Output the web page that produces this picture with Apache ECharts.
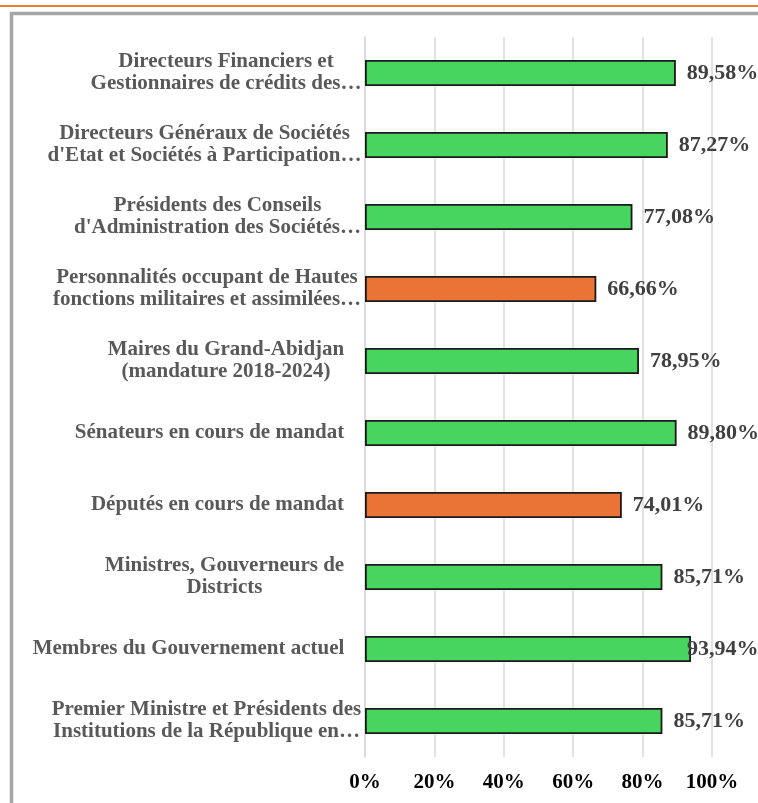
<!DOCTYPE html>
<html>
<head>
<meta charset="utf-8">
<style>
  html, body { margin: 0; padding: 0; background: #fff; }
  #chart { width: 758px; height: 803px; }
</style>
<script src="https://cdn.jsdelivr.net/npm/echarts@6/dist/echarts.min.js"></script>
</head>
<body>
<div id="chart"></div>
<script>
// categories listed bottom to top, as the value axis reads them
const categories = [
  'Premier Ministre et Présidents des\nInstitutions de la République en…',
  'Membres du Gouvernement actuel',
  'Ministres, Gouverneurs de\nDistricts',
  'Députés en cours de mandat',
  'Sénateurs en cours de mandat',
  'Maires du Grand-Abidjan\n(mandature 2018-2024)',
  'Personnalités occupant de Hautes\nfonctions militaires et assimilées…',
  'Présidents des Conseils\nd\'Administration des Sociétés…',
  'Directeurs Généraux de Sociétés\nd\'Etat et Sociétés à Participation…',
  'Directeurs Financiers et\nGestionnaires de crédits des…'
]
const rates = [85.71, 93.94, 85.71, 74.01, 89.80, 78.95, 66.66, 77.08, 87.27, 89.58]
const highlighted = [false, false, false, true, false, false, true, false, false, false]
const tickValues = [0, 20, 40, 60, 80, 100]

const GREEN = '#48D55F'
const ORANGE = '#EA7436'
const FONT = '"Liberation Serif", "Times New Roman", serif'
const CAT_SIZE = 21

// lines of a label are centred on each other; truncated labels run up to the axis,
// full ones stop a little short of it
const ctx = document.createElement('canvas').getContext('2d')
ctx.font = 'bold ' + CAT_SIZE + 'px ' + FONT
const rich = {}
categories.forEach((c, i) => {
  const w = Math.max(...c.split('\n').map(l => ctx.measureText(l).width))
  const pad = c.includes('…') ? 0 : 34
  rich['r' + i] = {
    width: Math.ceil(w) + 1 + pad,
    align: 'center',
    color: '#595959',
    fontFamily: FONT,
    fontWeight: 'bold',
    fontSize: CAT_SIZE,
    lineHeight: 22
  }
})

const chart = echarts.init(document.getElementById('chart'))

const seriesData = rates.map((v, i) => {
  const item = {
    value: v,
    itemStyle: { color: highlighted[i] ? ORANGE : GREEN }
  }
  // the label that would run past the plot is pulled back onto the bar end
  if (v > 92) item.label = { distance: -4 }
  return item
})

chart.setOption({
  animation: false,
  graphic: [
    { type: 'line', shape: { x1: 0, y1: 6, x2: 758, y2: 6 }, style: { stroke: '#ED7D31', lineWidth: 2 } },
    { type: 'rect', shape: { x: 11.5, y: 13.5, width: 800, height: 850 }, style: { fill: 'none', stroke: '#A6A6A6', lineWidth: 3.5 } }
  ],
  grid: { left: 365, right: 46, top: 37, bottom: 46 },
  xAxis: {
    type: 'value',
    min: 0,
    max: 100,
    interval: 20,
    axisLine: { show: false },
    axisTick: { show: false },
    splitLine: { lineStyle: { color: '#D9D9D9', width: 1.5 } },
    axisLabel: {
      margin: 15,
      color: '#000',
      fontFamily: FONT,
      fontWeight: 'bold',
      fontSize: 21,
      formatter: v => tickValues.includes(v) ? v + '%' : ''
    }
  },
  yAxis: {
    type: 'category',
    data: categories,
    axisLine: { show: true, lineStyle: { color: '#D9D9D9', width: 1.5 } },
    axisTick: { show: false },
    axisLabel: {
      margin: 3,
      align: 'right',
      rich: rich,
      formatter: (value, index) => value.split('\n').map(l => '{r' + index + '|' + l + '}').join('\n')
    }
  },
  series: [{
    type: 'bar',
    data: seriesData,
    barWidth: 26,
    itemStyle: { borderColor: '#1a1a1a', borderWidth: 1.8 },
    label: {
      show: true,
      position: 'right',
      distance: 11,
      color: '#404040',
      fontFamily: FONT,
      fontWeight: 'bold',
      fontSize: 22,
      formatter: p => p.value.toFixed(2).replace('.', ',') + '%'
    }
  }]
})
</script>
</body>
</html>
